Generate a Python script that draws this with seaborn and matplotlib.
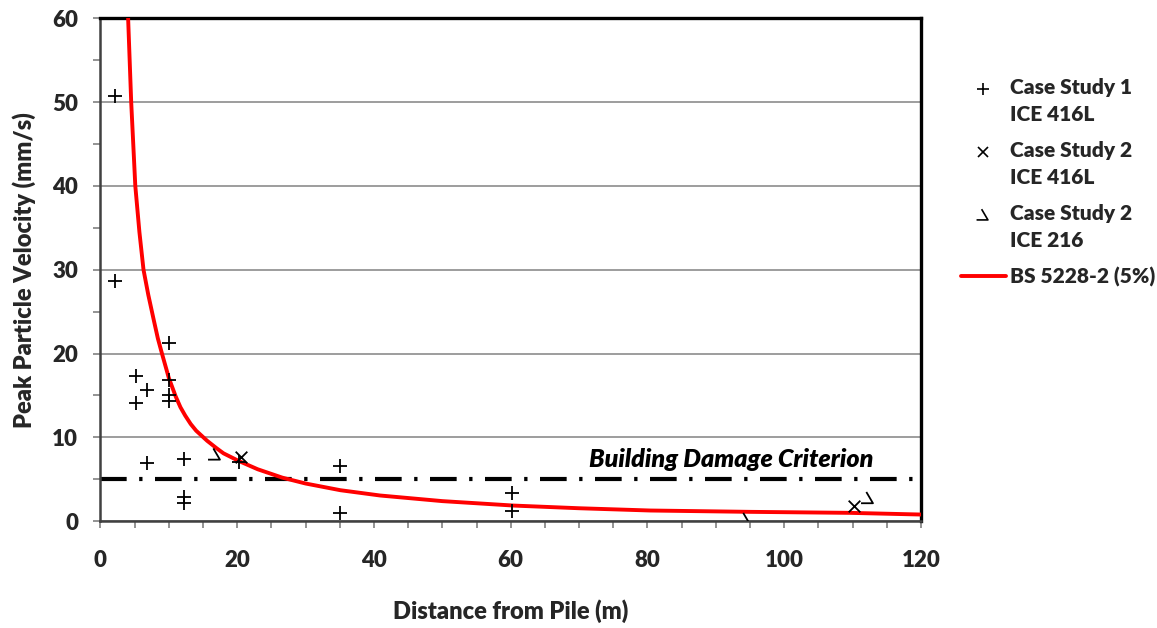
import matplotlib
matplotlib.use("Agg")
import matplotlib.pyplot as plt
import seaborn as sns
import pandas as pd
import numpy as np
from matplotlib.path import Path
from matplotlib.lines import Line2D
from matplotlib.legend_handler import HandlerLine2D
from matplotlib.ticker import MultipleLocator

# ---- data ----
cs1_x = [2.2, 2.2, 5.2, 6.8, 5.2, 10.1, 10.1, 10.1, 10.1, 6.8, 12.2, 12.2, 12.2, 20.2, 35.1, 35.1, 60.2, 60.2]
cs1_y = [50.7, 28.7, 17.3, 15.6, 14.1, 21.3, 16.9, 15.0, 14.4, 7.0, 7.4, 2.9, 2.2, 7.1, 6.6, 1.0, 3.4, 1.25]

cs2a_x = [20.6, 110.2]
cs2a_y = [7.7, 1.8]

cs2b_x = [16.8, 94.3, 112.3]
cs2b_y = [7.9, 0.2, 2.7]

bs_x = [4.05, 4.5, 5.1, 5.7, 6.3, 7.0, 7.8, 8.4, 9.0, 10.0, 11.0, 11.7, 12.4, 13.2, 14.0, 15.6, 17.0,
        18.0, 20.2, 23.0, 26.6, 30.0, 35.1, 40.9, 50.0, 60.4, 70.0, 80.4, 95.0, 109.6, 120.0]
bs_y = [60, 50, 40, 34.5, 30, 27, 24, 21.8, 20, 17.1, 14.9, 13.6, 12.6, 11.6, 10.8, 9.6, 8.7,
        8.1, 7.2, 6.2, 5.2, 4.5, 3.7, 3.07, 2.4, 1.87, 1.55, 1.28, 1.12, 1.0, 0.80]

criterion = 5
criterion_label = "Building Damage Criterion"
series_names = ["Case Study 1\nICE 416L", "Case Study 2\nICE 416L", "Case Study 2\nICE 216", "BS 5228-2 (5%)"]

sns.set_theme(style="white")
plt.rcParams['font.family'] = ['Lato', 'DejaVu Sans']
plt.rcParams['font.weight'] = 'heavy'

fig = plt.figure(figsize=(11.57, 6.28), dpi=100)
ax = fig.add_axes([0.0868, 0.170, 0.7092, 0.801])

tri = Path([(-0.15, 0.5), (0.35, -0.35), (-0.55, -0.35)],
           [Path.MOVETO, Path.LINETO, Path.LINETO])

df1 = pd.DataFrame({"x": cs1_x, "y": cs1_y})
df2 = pd.DataFrame({"x": cs2a_x, "y": cs2a_y})
df3 = pd.DataFrame({"x": cs2b_x, "y": cs2b_y})
dfl = pd.DataFrame({"x": bs_x, "y": bs_y})

# criterion line
ax.axhline(criterion, color="black", lw=3, dashes=(6.4, 3, 0.8, 3), solid_capstyle="butt",
           dash_capstyle="butt", zorder=2)
ax.text(113, criterion + 1.0, criterion_label, ha="right", va="bottom",
        fontsize=18, fontstyle="italic", fontweight="heavy", color="black")

sns.lineplot(data=dfl, x="x", y="y", ax=ax, color="#ff0000", lw=2.8, zorder=3,
             sort=False, estimator=None)
sns.scatterplot(data=df1, x="x", y="y", ax=ax, marker="+", s=110, color="black",
                linewidth=1.3, zorder=4)
sns.scatterplot(data=df2, x="x", y="y", ax=ax, marker="x", s=70, color="black",
                linewidth=1.3, zorder=4)
sns.scatterplot(data=df3, x="x", y="y", ax=ax, marker=tri, s=110, facecolor="none",
                edgecolor="black", linewidth=1.3, zorder=4)

ax.set_xlim(0, 120)
ax.set_ylim(0, 60)
ax.xaxis.set_major_locator(MultipleLocator(20))
ax.xaxis.set_minor_locator(MultipleLocator(5))
ax.yaxis.set_major_locator(MultipleLocator(10))
ax.yaxis.set_minor_locator(MultipleLocator(5))
ax.grid(axis="y", which="major", color="#8c8c8c", lw=1.2)
ax.set_axisbelow(True)

ax.tick_params(axis="both", which="both", direction="out", color="#808080", length=5, width=1.2,
               bottom=True, left=True)
ax.tick_params(axis="x", which="major", pad=16, labelsize=16)
ax.tick_params(axis="y", which="major", pad=11, labelsize=16)
for lab in ax.get_xticklabels() + ax.get_yticklabels():
    lab.set_fontweight("heavy")

for side in ["left", "bottom"]:
    ax.spines[side].set_color("#404040")
    ax.spines[side].set_linewidth(1.8)
for side in ["top", "right"]:
    ax.spines[side].set_color("black")
    ax.spines[side].set_linewidth(2.4)

ax.set_xlabel("Distance from Pile (m)", fontsize=17, fontweight="heavy", labelpad=20)
ax.set_ylabel("Peak Particle Velocity (mm/s)", fontsize=17, fontweight="heavy", labelpad=12)


class TopHandler(HandlerLine2D):
    """Place the marker level with the first line of a two-line label."""
    def create_artists(self, legend, orig_handle, xdescent, ydescent, width, height, fontsize, trans):
        arts = super().create_artists(legend, orig_handle, xdescent, ydescent, width, height,
                                      fontsize, trans)
        for a in arts:
            a.set_ydata(np.asarray(a.get_ydata()) + 9.5)
        return arts


handles = [
    Line2D([], [], marker="+", ls="none", color="black", markersize=9, mew=1.2),
    Line2D([], [], marker="x", ls="none", color="black", markersize=7, mew=1.2),
    Line2D([], [], marker=tri, ls="none", color="black", markerfacecolor="none", markersize=10, mew=1.2),
    Line2D([], [], color="#ff0000", lw=2.8),
]
hmap = {h: TopHandler() for h in handles[:3]}
leg = fig.legend(handles, series_names, loc="upper left", bbox_to_anchor=(0.823, 0.889),
                 frameon=False, prop={"family": "Lato", "weight": "heavy", "size": 15},
                 labelspacing=0.8, handlelength=2.2, handletextpad=0.15, borderaxespad=0,
                 handler_map=hmap)
for t in leg.get_texts():
    t.set_linespacing(1.52)

fig.savefig("out.png", dpi=100)
